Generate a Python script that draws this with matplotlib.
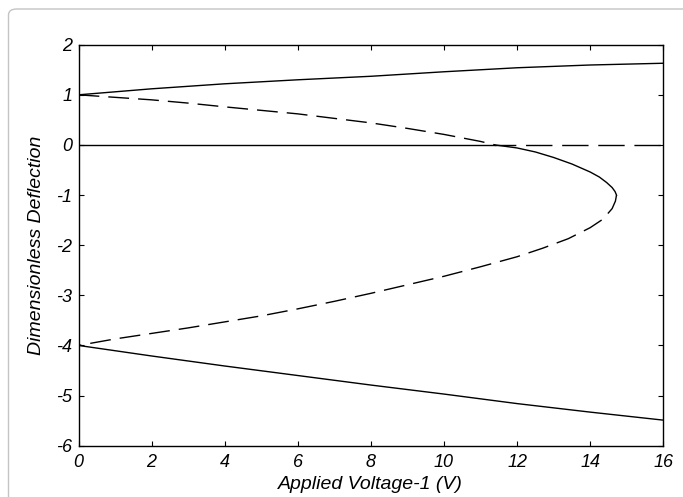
import matplotlib
matplotlib.use("Agg")
from matplotlib import pyplot as plt
from matplotlib.patches import FancyBboxPatch

# upper and lower solid branches
volt_outer = [0, 2, 4, 6, 8, 10, 12, 14, 16]
defl_top = [1.0, 1.12, 1.22, 1.30, 1.37, 1.46, 1.54, 1.595, 1.63]
defl_bottom = [-4.0, -4.21, -4.41, -4.60, -4.79, -4.97, -5.16, -5.33, -5.49]

# middle branch, dashed from (0,1) down to the zero crossing
volt_mid_a = [0, 1, 2, 3, 4, 5, 6, 7, 8, 9, 10, 11, 11.4]
defl_mid_a = [1.0, 0.95, 0.90, 0.835, 0.76, 0.69, 0.62, 0.53, 0.44, 0.33, 0.21, 0.07, 0.0]

# middle branch, solid from the crossing to the turning point
volt_mid_b = [11.4, 12.0, 12.5, 13.0, 13.5, 14.0, 14.25, 14.45, 14.6, 14.68, 14.72]
defl_mid_b = [0.0, -0.06, -0.14, -0.25, -0.38, -0.54, -0.64, -0.75, -0.85, -0.93, -1.0]

# middle branch, dashed from the turning point back to (0,-4)
volt_mid_c = [14.72, 14.69, 14.6, 14.35, 14.0, 13.4, 12.7, 12.0, 11.0, 10.0, 9.0,
              8.0, 7.0, 6.0, 5.0, 4.0, 3.0, 2.0, 1.0, 0.0]
defl_mid_c = [-1.0, -1.12, -1.27, -1.48, -1.65, -1.87, -2.06, -2.23, -2.43, -2.62, -2.79,
              -2.96, -3.12, -3.27, -3.41, -3.53, -3.65, -3.76, -3.87, -4.0]

# trivial branch y = 0
volt_zero_solid = [0, 11.4]
volt_zero_dash = [11.4, 16]
defl_zero = [0, 0]

xticks = [0, 2, 4, 6, 8, 10, 12, 14, 16]
yticks = [-6, -5, -4, -3, -2, -1, 0, 1, 2]

plt.rcParams['font.family'] = ['Liberation Sans', 'DejaVu Sans']
plt.rcParams['lines.scale_dashes'] = False

W, H = 683, 497
fig = plt.figure(figsize=(W/100, H/100), dpi=100)
fig.patch.set_facecolor('white')

# light grey rounded frame around the picture
frame = FancyBboxPatch((8.5/W, -20/H), (W + 20)/W, (H - 9 + 20)/H,
                       boxstyle="round,pad=0,rounding_size=0.012",
                       transform=fig.transFigure, facecolor='none',
                       edgecolor='#c4c4c4', linewidth=1.0)
fig.patches.append(frame)

ax = fig.add_axes([78.5/W, 1 - 445.7/H, (663.3 - 78.5)/W, (445.7 - 44.7)/H])

lw = 1.0
dash = (0, (15, 6.5))
ax.plot(volt_outer, defl_top, color='black', lw=lw)
ax.plot(volt_outer, defl_bottom, color='black', lw=lw)
ax.plot(volt_zero_solid, defl_zero, color='black', lw=lw)
ax.plot(volt_zero_dash, defl_zero, color='black', lw=lw, linestyle=(4, (19, 7)))
ax.plot(volt_mid_a, defl_mid_a, color='black', lw=lw, linestyle=dash)
ax.plot(volt_mid_b, defl_mid_b, color='black', lw=lw)
ax.plot(volt_mid_c, defl_mid_c, color='black', lw=lw, linestyle=dash)

ax.set_xlim(0, 16)
ax.set_ylim(-6, 2)
ax.set_xticks(xticks)
ax.set_yticks(yticks)
ax.set_xticklabels([str(t) for t in xticks], fontstyle='italic')
ax.set_yticklabels([str(t) for t in yticks], fontstyle='italic')
ax.tick_params(axis='x', pad=6)
ax.tick_params(axis='y', pad=4.5)
ax.tick_params(direction='in', length=3.6, width=0.8, top=True, right=True,
               labelsize=13, colors='black')
for s in ax.spines.values():
    s.set_linewidth(1.0)
    s.set_color('black')

ax.set_xlabel('Applied Voltage-1 (V)', fontsize=14, fontstyle='italic', labelpad=3.5)
ax.set_ylabel('Dimensionless Deflection', fontsize=14, fontstyle='italic', labelpad=8)

fig.savefig('out.png', dpi=100)
